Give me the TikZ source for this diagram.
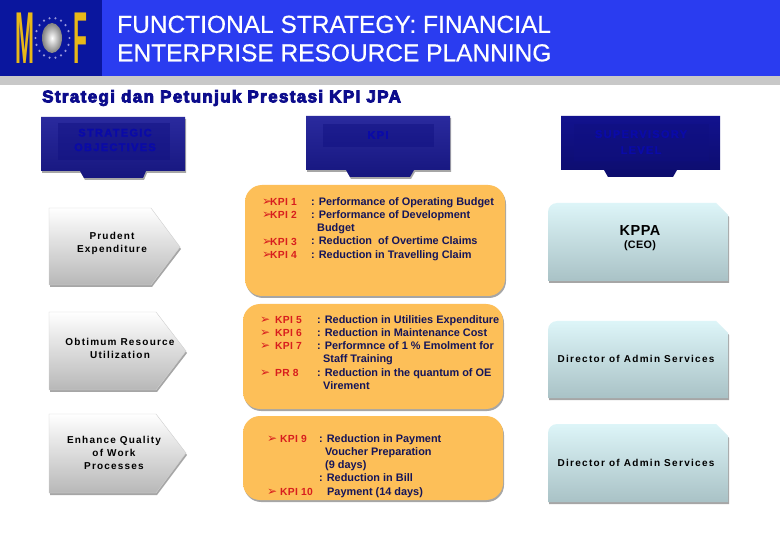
\documentclass[tikz,border=0pt]{standalone}
\usepackage{fontspec}
\setmainfont{Liberation Sans}
\newfontfamily\heavyfont[FakeBold=5,LetterSpace=8]{Liberation Sans Bold}
\newfontfamily\headfont[FakeBold=2,LetterSpace=12]{Liberation Sans Bold}
\newfontfamily\spacedfont[LetterSpace=12]{Liberation Sans Bold}
\newfontfamily\levelfont[LetterSpace=13]{Liberation Sans Bold}
\newfontfamily\kpifont[LetterSpace=3]{Liberation Sans Bold}
\newfontfamily\titlefont[FakeBold=0.5]{Liberation Sans}
\newfontfamily\symbolfont{DejaVu Sans}
\usepackage{xcolor}
\usetikzlibrary{positioning,calc,shadows,fadings}
\definecolor{barblue}{HTML}{2A3CF0}
\definecolor{logoblue}{HTML}{0A169E}
\definecolor{bandgray}{HTML}{C8C8C8}
\definecolor{navy}{HTML}{0F0F80}
\definecolor{navytop}{HTML}{2A2A9E}
\definecolor{navylow}{HTML}{16167E}
\definecolor{navydeep}{HTML}{12128E}
\definecolor{inkblue}{HTML}{0C0C8C}
\definecolor{inkhead}{HTML}{0A0AA8}
\definecolor{inkdark}{HTML}{15155A}
\definecolor{orangebox}{HTML}{FDBF58}
\definecolor{orangetop}{HTML}{FFE68C}
\definecolor{paleblue}{HTML}{DDF5F8}
\definecolor{palelow}{HTML}{A9C2C6}
\definecolor{kpired}{HTML}{D81E1E}
\definecolor{logogold}{HTML}{E8B818}
\pgfdeclareverticalshading{kpishade}{100bp}{color(0bp)=(orangebox!90!black); color(4bp)=(orangebox); color(90bp)=(orangebox); color(97bp)=(orangetop); color(100bp)=(orangetop)}
\newcommand{\kpimark}[1]{\makebox[#1][l]{\symbolfont\fontsize{12}{10}\selectfont ➢}}
\begin{document}
\begin{tikzpicture}[x=1pt,y=-1pt,
    soft/.style={drop shadow={shadow xshift=1pt,shadow yshift=-2pt,fill=black,opacity=0.35}},
    headbox/.style={top color=navytop, bottom color=navylow, soft},
    headinner/.style={fill=navy, opacity=0.45},
    headtext/.style={font=\headfont\fontsize{11}{14.5}\selectfont, text=inkhead, align=center},
    kpibox/.style={rounded corners=17pt, shading=kpishade, soft},
    arrowbox/.style={top color=white, bottom color=black!28, draw=black!18, line width=0.4pt, soft},
    levelbox/.style={top color=paleblue, bottom color=palelow, soft},
    objtext/.style={font=\spacedfont\fontsize{10}{13}\selectfont, align=center},
    leveltext/.style={font=\levelfont\fontsize{10}{13}\selectfont, align=center},
    kpilist/.style={font=\bfseries\fontsize{10.9}{13.3}\selectfont, text=inkdark, anchor=north west, align=left, inner sep=0pt},
    kpitag/.style={font=\kpifont\fontsize{10.3}{13.3}\selectfont, text=kpired, anchor=north west, align=left, inner sep=0pt}
]
\useasboundingbox (0,0) rectangle (780,540);
\fill[white] (0,0) rectangle (780,540);

% title bar
\fill[barblue] (0,0) rectangle (780,76);
\fill[logoblue] (0,0) rectangle (102,76);
\fill[bandgray] (0,76) rectangle (780,85);
\node[font=\titlefont\fontsize{24.5}{28.5}\selectfont, text=white, anchor=north west, align=left, inner sep=0pt] (title) at (117,15.5) {FUNCTIONAL STRATEGY: FINANCIAL\\ENTERPRISE RESOURCE PLANNING};

% logo
\node[font=\bfseries\fontsize{30}{30}\selectfont, text=logogold, yscale=2.45, xscale=0.76, inner sep=0pt] (logom) at (24.5,38.5) {M};
\node[font=\bfseries\fontsize{30}{30}\selectfont, text=logogold, yscale=2.45, xscale=0.76, inner sep=0pt] (logof) at (80,38.5) {F};
\foreach \ang in {0,20,...,340}
    \fill[black!35!blue!40!white] ($(52.5,38)+(\ang:17 and 20)$) circle (1.2);
\shade[inner color=white, outer color=black!50] (52,38) ellipse (10 and 15);

\node[font=\heavyfont\fontsize{17}{18}\selectfont, text=inkblue, anchor=west, inner sep=0pt] (subtitle) at (42,98) {Strategi dan Petunjuk Prestasi KPI JPA};

% column heads
\path[headbox] (41,117) -- (185,117) -- (185,171) -- (146,171) -- (143,178) -- (84,178) -- (80,171) -- (41,171) -- cycle;
\fill[headinner] (58,123) rectangle (170,160);
\node[headtext] (strategic) at (115,140) {STRATEGIC\\OBJECTIVES};

\path[headbox] (306,116) -- (450,116) -- (450,170) -- (414,170) -- (410,177) -- (350,177) -- (346,170) -- (306,170) -- cycle;
\fill[headinner] (323,124) rectangle (434,147);
\node[headtext] (kpi) at (378,135) {KPI};

\path[top color=navydeep, bottom color=navy!85!black] (561,116) -- (720,116) -- (720,170) -- (677,170) -- (673,177) -- (608,177) -- (604,170) -- (561,170) -- cycle;
\fill[headinner] (574,124) rectangle (709,161);
\node[headtext, font=\headfont\fontsize{11}{16}\selectfont] (supervisory) at (641,142) {SUPERVISORY\\LEVEL};

% objectives
\path[arrowbox] (49,208) -- (151,208) -- (180,247) -- (151,285) -- (49,285) -- cycle;
\node[objtext] (prudent) at (112,243) {Prudent\\Expenditure};
\path[arrowbox] (49,312) -- (156,312) -- (186,351) -- (156,390) -- (49,390) -- cycle;
\node[objtext] (obtimum) at (120,348) {Obtimum Resource\\Utilization};
\path[arrowbox] (49,414) -- (156,414) -- (186,453) -- (156,493) -- (49,493) -- cycle;
\node[objtext] (enhance) at (114,453) {Enhance Quality\\of Work\\Processes};

% kpi boxes
\path[kpibox] (245,185) rectangle (505,296);
\path[kpibox] (243,304) rectangle (503,409);
\path[kpibox] (243,416) rectangle (503,500);

\node[kpitag] (kpione) at (262,198) {\kpimark{8pt}KPI 1\\\kpimark{8pt}KPI 2\\[13.3pt]\kpimark{8pt}KPI 3\\\kpimark{8pt}KPI 4};
\node[kpilist] (kpionetext) at (311,197) {: Performance of Operating Budget\\: Performance of Development\\\hspace*{6pt}Budget\\: Reduction\ \ of Overtime Claims\\: Reduction in Travelling Claim};

\node[kpitag] (kpitwo) at (260,316) {\kpimark{15pt}KPI 5\\\kpimark{15pt}KPI 6\\\kpimark{15pt}KPI 7\\[13.3pt]\kpimark{15pt}PR 8};
\node[kpilist] (kpitwotext) at (317,315) {: Reduction in Utilities Expenditure\\: Reduction in Maintenance Cost\\: Performnce of 1 \% Emolment for\\\hspace*{6pt}Staff Training\\: Reduction in the quantum of OE\\\hspace*{6pt}Virement};

\node[kpitag] (kpithree) at (267,435) {\kpimark{13pt}KPI 9\\[39.9pt]\kpimark{13pt}KPI 10};
\node[kpilist] (kpithreetext) at (319,434) {: Reduction in Payment\\\hspace*{6pt}Voucher Preparation\\\hspace*{6pt}(9 days)\\: Reduction in Bill\\\hspace*{8pt}Payment (14 days)};

% supervisory level boxes
\path[levelbox] (548,281) [rounded corners=9pt] -- (548,203) [sharp corners] -- (716,203) -- (728,215) -- (728,281) -- cycle;
\node[font=\kpifont\fontsize{14.5}{15}\selectfont] (kppa) at (640,231) {KPPA};
\node[font=\kpifont\fontsize{10.8}{12}\selectfont] (ceo) at (640,246) {(CEO)};
\path[levelbox] (548,398) [rounded corners=9pt] -- (548,321) [sharp corners] -- (716,321) -- (728,333) -- (728,398) -- cycle;
\node[leveltext] (adminone) at (636,359) {Director of Admin Services};
\path[levelbox] (548,502) [rounded corners=9pt] -- (548,424) [sharp corners] -- (716,424) -- (728,436) -- (728,502) -- cycle;
\node[leveltext] (admintwo) at (636,463) {Director of Admin Services};
\end{tikzpicture}
\end{document}
